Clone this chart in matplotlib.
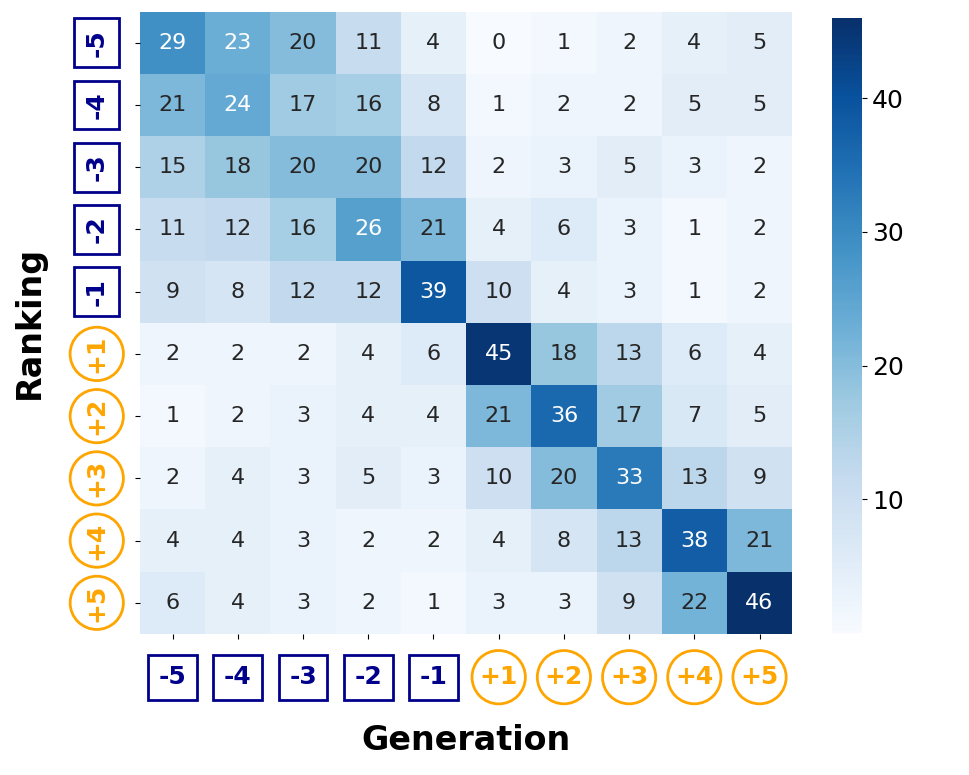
import numpy as np
import matplotlib
matplotlib.use("Agg")
import matplotlib.pyplot as plt
import seaborn as sns

# tick labels for both axes
labels = ["-5", "-4", "-3", "-2", "-1", "+1", "+2", "+3", "+4", "+5"]

# rows = Ranking, columns = Generation
counts = np.array([
    [29, 23, 20, 11, 4, 0, 1, 2, 4, 5],
    [21, 24, 17, 16, 8, 1, 2, 2, 5, 5],
    [15, 18, 20, 20, 12, 2, 3, 5, 3, 2],
    [11, 12, 16, 26, 21, 4, 6, 3, 1, 2],
    [9, 8, 12, 12, 39, 10, 4, 3, 1, 2],
    [2, 2, 2, 4, 6, 45, 18, 13, 6, 4],
    [1, 2, 3, 4, 4, 21, 36, 17, 7, 5],
    [2, 4, 3, 5, 3, 10, 20, 33, 13, 9],
    [4, 4, 3, 2, 2, 4, 8, 13, 38, 21],
    [6, 4, 3, 2, 1, 3, 3, 9, 22, 46],
])

fig = plt.figure(figsize=(9.69, 7.75), dpi=100)
ax = fig.add_axes([0.1445, 0.182, 0.673, 0.803])
cax = fig.add_axes([0.859, 0.183, 0.031, 0.794])

sns.heatmap(counts, ax=ax, cbar_ax=cax, cmap="Blues", annot=True, fmt="d",
            annot_kws={"fontsize": 16})

cax.tick_params(labelsize=18)
cax.set_yticks([10, 20, 30, 40])

ax.set_xticks(np.arange(len(labels)) + 0.5)
ax.set_yticks(np.arange(len(labels)) + 0.5)
ax.set_xticklabels(labels, fontsize=18, fontweight="bold", rotation=0)
ax.set_yticklabels(labels, fontsize=18, fontweight="bold", rotation=90, va="center")
ax.tick_params(axis="x", pad=19)
ax.tick_params(axis="y", pad=19)

def style_label(t):
    if t.get_text().startswith("-"):
        t.set_color("#00008B")
        t.set_bbox(dict(boxstyle="square,pad=0.42", fc="white", ec="#00008B", lw=2))
    else:
        t.set_color("#FFA500")
        t.set_bbox(dict(boxstyle="circle,pad=0.3", fc="white", ec="#FFA500", lw=2))

for t in ax.get_xticklabels():
    style_label(t)
for t in ax.get_yticklabels():
    style_label(t)

ax.set_xlabel("Generation", fontsize=24, fontweight="bold", labelpad=25)
ax.set_ylabel("Ranking", fontsize=24, fontweight="bold", labelpad=28)

fig.savefig("out.png", dpi=100)
